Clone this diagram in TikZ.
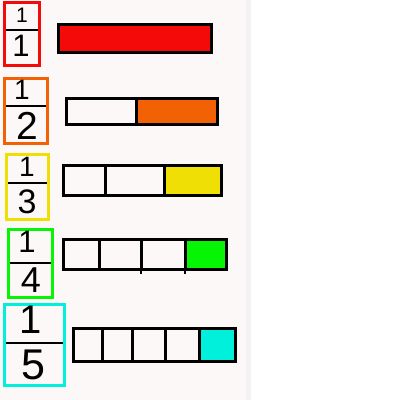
\documentclass[tikz,border=0pt]{standalone}
\usepackage{fontspec}
\setmainfont{Liberation Sans}
\definecolor{paper}{HTML}{FCF8F7}
\definecolor{edge}{HTML}{F3F3F3}
\definecolor{fracred}{HTML}{F50A0A}
\definecolor{fracorange}{HTML}{F26205}
\definecolor{fracyellow}{HTML}{F0DF05}
\definecolor{fracgreen}{HTML}{05F505}
\definecolor{fraccyan}{HTML}{00F0DC}
\tikzset{frame/.style={line width=3pt},
  bar/.style={line width=3pt,draw=black},
  digit/.style={inner sep=0pt,outer sep=0pt}}
\begin{document}
\begin{tikzpicture}[x=1pt,y=-1pt,line join=miter]
\useasboundingbox (0,0) rectangle (400,400);
\fill[paper] (0,0) rectangle (246,400);
\fill[edge] (246,0) rectangle (251,400);
% fraction boxes
\foreach \n/\c/\l/\t/\r/\b/\m in {1/fracred/4.5/2.5/39.5/65.5/30,2/fracorange/4.5/78.5/47.5/143.5/106,3/fracyellow/6.5/154.5/48.5/219.5/183,4/fracgreen/8.5/229.5/52.5/297.5/263,5/fraccyan/4.5/304.5/64.5/385.5/343}
{
  \draw[frame,\c] (\l,\t) rectangle (\r,\b);
  \draw[line width=2pt] (\l+1.5,\m) -- (\r-1.5,\m);
}
% numerators and denominators
\foreach \n/\nx/\ny/\ns/\dx/\dy/\ds in {1/22/15.5/21/21/46/31,2/22/90/28/27/126/39,3/27/167/28/27/202/34,4/27/242/31/31/280/36,5/31/319.5/40/33/364.5/43}
{
  \node[digit,font=\fontsize{\ns}{\ns}\selectfont] (num\n) at (\nx,\ny) {1};
  \node[digit,font=\fontsize{\ds}{\ds}\selectfont] (den\n) at (\dx,\dy) {\n};
}
% bars
\foreach \c/\l/\t/\r/\b/\f/\cuts in {fracred/58.5/24.5/211.5/52.5/58.5/{58.5},fracorange/66.5/98.5/217.5/124.5/136/{136},fracyellow/63.5/165.5/221.5/195.5/164/{105,164},fracgreen/63.5/239.5/226.5/269.5/185/{99,141,185},fraccyan/73.5/328.5/235.5/361.5/199/{102,132,165,199}}
{
  \fill[\c] (\f,\t) rectangle (\r,\b);
  \draw[bar] (\l,\t) rectangle (\r,\b);
  \foreach \x in \cuts
    \draw[bar] (\x,\t) -- (\x,\b);
}
\draw[line width=2pt] (141,269) -- (141,274) (185,269) -- (185,274);
\end{tikzpicture}
\end{document}
